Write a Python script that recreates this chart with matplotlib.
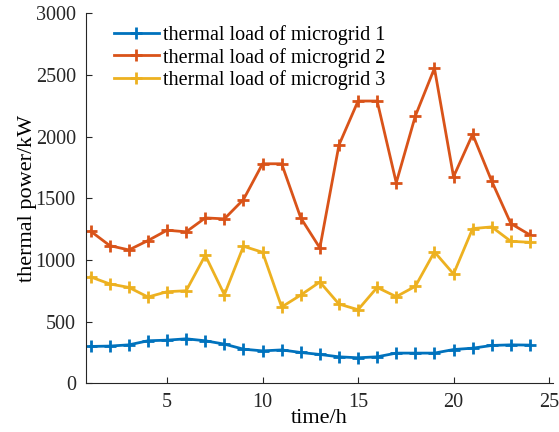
import numpy as np
import matplotlib
matplotlib.use('Agg')
import matplotlib.pyplot as plt

# thermal load per hour, kW
hours = list(range(1, 25))
load_mg1 = [298, 301, 311, 344, 349, 360, 344, 317, 276, 262, 270, 249,
            233, 214, 206, 214, 244, 244, 244, 273, 284, 306, 311, 309]
load_mg2 = [1233, 1116, 1081, 1157, 1241, 1228, 1341, 1333, 1490, 1780, 1780, 1341,
            1097, 1932, 2289, 2289, 1626, 2168, 2555, 1675, 2019, 1639, 1295, 1203]
load_mg3 = [862, 805, 777, 699, 742, 750, 1037, 718, 1111, 1062, 618, 715,
            821, 642, 596, 777, 702, 786, 1065, 886, 1254, 1268, 1151, 1143]
labels = ['thermal load of microgrid 1', 'thermal load of microgrid 2',
          'thermal load of microgrid 3']

plt.rcParams['font.family'] = ['Liberation Serif', 'DejaVu Serif']

fig = plt.figure(figsize=(5.59, 4.32), dpi=100)
ax = fig.add_axes([0.153, 0.113, 0.836, 0.856])

colors = ['#0072BD', '#D95319', '#EDB120']
for y, c, lab in zip([load_mg1, load_mg2, load_mg3], colors, labels):
    ax.plot(hours, y, color=c, lw=2.0, marker='+', ms=8, mew=2.0, label=lab)

ax.set_xlim(0.73, 25.2)
ax.set_ylim(0, 3000)
ax.set_xticks([5, 10, 15, 20, 25])
ax.set_yticks(np.arange(0, 3001, 500))
ax.spines['top'].set_visible(False)
ax.spines['right'].set_visible(False)
for s in ['left', 'bottom']:
    ax.spines[s].set_color('#262626')
    ax.spines[s].set_linewidth(0.8)
ax.tick_params(direction='in', length=4.5, labelsize=14.5, colors='#262626', pad=7)
ax.set_xlabel('time/h', fontsize=16, labelpad=-2)
ax.set_ylabel('thermal power/kW', fontsize=16, labelpad=-1)

ax.legend(loc='upper left', bbox_to_anchor=(0.04, 0.995), frameon=False, fontsize=14.5,
          handlelength=2.2, handletextpad=0.2, labelspacing=0.12, borderaxespad=0.1)

fig.savefig('out.png', dpi=100)
